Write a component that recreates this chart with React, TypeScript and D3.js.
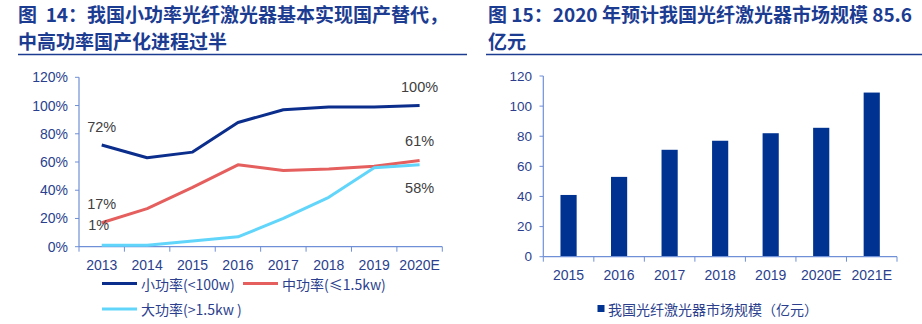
import React from "react";
import * as d3 from "d3";

const years1 = ["2013", "2014", "2015", "2016", "2017", "2018", "2019", "2020E"];
const smallPower = [72, 63, 67, 88, 97, 99, 99, 100];
const midPower = [17, 27, 42, 58, 54, 55, 57, 61];
const highPower = [1, 1, 4, 7, 20, 35, 56, 58];
const pctTicks = [0, 20, 40, 60, 80, 100, 120];

const years2 = ["2015", "2016", "2017", "2018", "2019", "2020E", "2021E"];
const marketSize = [41, 53, 71, 77, 82, 85.6, 109];
const valTicks = [0, 20, 40, 60, 80, 100, 120];

const title1 = ["图  14：我国小功率光纤激光器基本实现国产替代，", "中高功率国产化进程过半"];
const title2 = ["图 15：2020 年预计我国光纤激光器市场规模 85.6", "亿元"];

const seriesNames = ["小功率(<100w)", "中功率(≤1.5kw)", "大功率(>1.5kw )"];
const barLegend = "我国光纤激光器市场规模（亿元）";

const NAVY = "#0b2d8c";
const RED = "#e45f5d";
const CYAN = "#62d5fb";
const AXIS = "#6f8fd6";
const TICKTXT = "#2b3f8e";
const TITLE = "#1c3c92";
const BAR = "#003391";
const FONT = "'Liberation Sans', Arial, sans-serif";
const CJK = "'Noto Sans CJK SC', 'Liberation Sans', sans-serif";

export default function App() {
  const x1 = d3.scaleBand<string>().domain(years1).range([79, 442.3]).padding(0);
  const y1 = d3.scaleLinear().domain([0, 120]).range([246.7, 77.3]);
  const cx1 = (d: string) => (x1(d) as number) + x1.bandwidth() / 2;
  const line = d3
    .line<number>()
    .x((_, i) => cx1(years1[i]))
    .y((v) => y1(v));

  const x2 = d3.scaleBand<string>().domain(years2).range([543.3, 897]).padding(0);
  const y2 = d3.scaleLinear().domain([0, 120]).range([256.7, 76]);
  const barW = x2.bandwidth() * 0.32;

  const series = [
    { v: smallPower, c: NAVY },
    { v: midPower, c: RED },
    { v: highPower, c: CYAN },
  ];

  const last = years1.length - 1;
  const dataLabels = [
    { t: "72%", x: cx1(years1[0]), y: y1(smallPower[0]) - 18 },
    { t: "17%", x: cx1(years1[0]), y: y1(midPower[0]) - 19 },
    { t: "1%", x: cx1(years1[0]) - 3, y: y1(highPower[0]) - 20 },
    { t: "100%", x: cx1(years1[last]), y: y1(smallPower[last]) - 19 },
    { t: "61%", x: cx1(years1[last]), y: y1(midPower[last]) - 20 },
    { t: "58%", x: cx1(years1[last]), y: y1(highPower[last]) + 23 },
  ];

  return (
    <svg
      width={922}
      height={324}
      style={{ position: "absolute", left: 0, top: 0, background: "#fff" }}
    >
      <g fontFamily={CJK} fontWeight="bold" fontSize={19} fill={TITLE}>
        <text x={18} y={21.5} xmlSpace="preserve">{title1[0]}</text>
        <text x={18} y={48.5}>{title1[1]}</text>
        <text x={488} y={21.5} xmlSpace="preserve">{title2[0]}</text>
        <text x={488} y={48.5}>{title2[1]}</text>
      </g>
      <line x1={18} x2={467} y1={54.5} y2={54.5} stroke={TITLE} strokeWidth={1.3} />
      <line x1={486} x2={922} y1={54.5} y2={54.5} stroke={TITLE} strokeWidth={1.3} />

      <g fontFamily={FONT} fontSize={14} fill={TICKTXT}>
        {pctTicks.map((t) => (
          <g key={t}>
            <line x1={75} x2={79} y1={y1(t)} y2={y1(t)} stroke={AXIS} />
            <text x={68} y={y1(t)} textAnchor="end" dominantBaseline="central">
              {t}%
            </text>
          </g>
        ))}
        <line x1={79} x2={79} y1={y1(120)} y2={y1(0)} stroke={AXIS} strokeWidth={1.2} />
        <line x1={79} x2={442.3} y1={y1(0)} y2={y1(0)} stroke={AXIS} strokeWidth={1.2} />
        {years1.map((d) => (
          <line
            key={"t" + d}
            x1={x1(d) as number}
            x2={x1(d) as number}
            y1={y1(0)}
            y2={y1(0) + 5}
            stroke={AXIS}
          />
        ))}
        <line x1={442.3} x2={442.3} y1={y1(0)} y2={y1(0) + 5} stroke={AXIS} />
        {years1.map((d) => (
          <text key={d} x={cx1(d)} y={264.5} textAnchor="middle" dominantBaseline="central">
            {d}
          </text>
        ))}
      </g>

      {series.map((s, i) => (
        <path
          key={i}
          d={line(s.v) as string}
          fill="none"
          stroke={s.c}
          strokeWidth={3}
          strokeLinejoin="round"
        />
      ))}

      <g fontFamily={FONT} fontSize={14.5} fill="#404040">
        {dataLabels.map((l, i) => (
          <text key={i} x={l.x} y={l.y} textAnchor="middle" dominantBaseline="central">
            {l.t}
          </text>
        ))}
      </g>

      <g fontFamily={CJK} fontSize={14} fill={TICKTXT}>
        <line x1={102} x2={137} y1={283.5} y2={283.5} stroke={NAVY} strokeWidth={3} />
        <text x={141} y={283.5} dominantBaseline="central">{seriesNames[0]}</text>
        <line x1={243} x2={278} y1={283.5} y2={283.5} stroke={RED} strokeWidth={3} />
        <text x={282} y={283.5} dominantBaseline="central">{seriesNames[1]}</text>
        <line x1={102} x2={137} y1={309} y2={309} stroke={CYAN} strokeWidth={3} />
        <text x={141} y={309} dominantBaseline="central">{seriesNames[2]}</text>
      </g>

      {years2.map((d, i) => (
        <rect
          key={d}
          x={(x2(d) as number) + x2.bandwidth() / 2 - barW / 2}
          y={y2(marketSize[i])}
          width={barW}
          height={y2(0) - y2(marketSize[i])}
          fill={BAR}
        />
      ))}

      <g fontFamily={FONT} fontSize={13.5} fill={TICKTXT}>
        {valTicks.map((t) => (
          <g key={t}>
            <line x1={539.5} x2={543.3} y1={y2(t)} y2={y2(t)} stroke={AXIS} />
            <text x={532} y={y2(t)} textAnchor="end" dominantBaseline="central">
              {t}
            </text>
          </g>
        ))}
        <line x1={543.3} x2={543.3} y1={y2(120)} y2={y2(0)} stroke={AXIS} strokeWidth={1.2} />
        <line x1={543.3} x2={897} y1={y2(0)} y2={y2(0)} stroke={AXIS} strokeWidth={1.2} />
        {years2.map((d) => (
          <line
            key={"t" + d}
            x1={x2(d) as number}
            x2={x2(d) as number}
            y1={y2(0)}
            y2={y2(0) + 5}
            stroke={AXIS}
          />
        ))}
        <line x1={897} x2={897} y1={y2(0)} y2={y2(0) + 5} stroke={AXIS} />
        {years2.map((d) => (
          <text
            key={d}
            x={(x2(d) as number) + x2.bandwidth() / 2}
            y={275}
            textAnchor="middle"
            dominantBaseline="central"
            fontSize={14}
          >
            {d}
          </text>
        ))}
      </g>

      <rect x={597.5} y={305} width={7} height={7} fill={BAR} />
      <text
        x={608}
        y={309}
        fontFamily={CJK}
        fontSize={14}
        fill={TICKTXT}
        dominantBaseline="central"
      >
        {barLegend}
      </text>
    </svg>
  );
}
